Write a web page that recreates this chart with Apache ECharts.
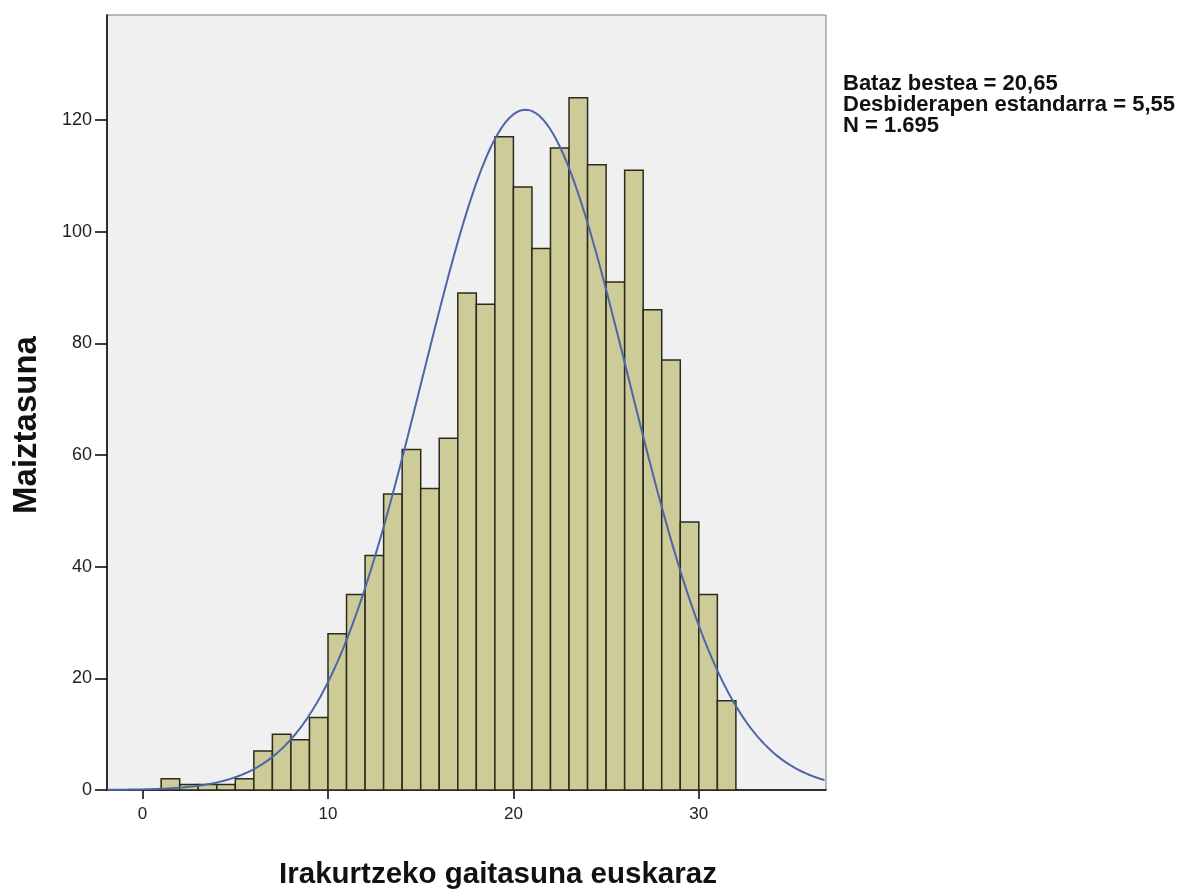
<!DOCTYPE html>
<html>
<head>
<meta charset="utf-8">
<style>
  html, body { margin: 0; padding: 0; background: #fff; }
  #chart { width: 1186px; height: 892px; }
</style>
<script src="https://cdn.jsdelivr.net/npm/echarts@6/dist/echarts.min.js"></script>
</head>
<body>
<div id="chart"></div>
<script>
// histogram bins (each bin covers [start, start + 1])
const binStart = [1, 2, 3, 4, 5, 6, 7, 8, 9, 10, 11, 12, 13, 14, 15, 16,
  17, 18, 19, 20, 21, 22, 23, 24, 25, 26, 27, 28, 29, 30, 31];
const counts = [2, 1, 1, 1, 2, 7, 10, 9, 13, 28, 35, 42, 53, 61, 54, 63,
  89, 87, 117, 108, 97, 115, 124, 112, 91, 111, 86, 77, 48, 35, 16];

const xTicks = [0, 10, 20, 30];
const yTicks = [0, 20, 40, 60, 80, 100, 120];

// stats printed next to the plot, also used for the normal curve
const mean = 20.65;
const sd = 5.55;
const n = 1695;
const statLines = [
  'Bataz bestea = 20,65',
  'Desbiderapen estandarra = 5,55',
  'N = 1.695'
];

const xMin = -1.92, xMax = 36.86, yMax = 138.8;

// normal curve scaled to the counts (bin width 1)
const curve = [];
for (let x = xMin; x <= xMax + 1e-9; x += 0.1) {
  const z = (x - mean) / sd;
  curve.push([x, n / (sd * Math.sqrt(2 * Math.PI)) * Math.exp(-0.5 * z * z)]);
}

const chart = echarts.init(document.getElementById('chart'));

chart.setOption({
  animation: false,
  backgroundColor: '#fff',
  grid: {
    left: 107, right: 360, top: 15, bottom: 102,
    show: true, backgroundColor: '#f0f0f0', borderColor: '#7a7a7a', borderWidth: 1
  },
  xAxis: {
    type: 'value', min: xMin, max: xMax,
    axisLine: { show: true, onZero: false, lineStyle: { color: '#000', width: 1.5 } },
    axisTick: { show: true, length: 9, customValues: xTicks, lineStyle: { color: '#000', width: 1.5 } },
    axisLabel: { customValues: xTicks, fontFamily: 'Liberation Sans', fontSize: 17, color: '#222', margin: 16 },
    splitLine: { show: false }
  },
  yAxis: {
    type: 'value', min: 0, max: yMax,
    axisLine: { show: true, onZero: false, lineStyle: { color: '#000', width: 1.5 } },
    axisTick: { show: true, length: 12, customValues: yTicks, lineStyle: { color: '#000', width: 1.5 } },
    axisLabel: { customValues: yTicks, fontFamily: 'Liberation Sans', fontSize: 18, color: '#222', margin: 15 },
    splitLine: { show: false }
  },
  series: [
    {
      type: 'custom',
      data: binStart.map((s, i) => [s, counts[i]]),
      renderItem: function (params, api) {
        const s = api.value(0);
        const p0 = api.coord([s, api.value(1)]);
        const p1 = api.coord([s + 1, 0]);
        return {
          type: 'rect',
          shape: { x: p0[0], y: p0[1], width: p1[0] - p0[0], height: p1[1] - p0[1] },
          style: { fill: '#cdcb97', stroke: '#2a2a1e', lineWidth: 1.5 }
        };
      },
      z: 2
    },
    {
      type: 'line',
      data: curve,
      showSymbol: false,
      lineStyle: { color: '#4d66a8', width: 2 },
      z: 3
    }
  ],
  graphic: [
    {
      type: 'text', left: 843, top: 73,
      style: {
        text: statLines.join('\n'),
        fontFamily: 'Liberation Sans', fontWeight: 'bold', fontSize: 22,
        lineHeight: 21, fill: '#111'
      }
    },
    {
      type: 'text', x: 27, y: 425, rotation: Math.PI / 2,
      style: {
        text: 'Maiztasuna', fontFamily: 'Liberation Sans', fontWeight: 'bold',
        fontSize: 33, fill: '#111', align: 'center', verticalAlign: 'middle'
      }
    },
    {
      type: 'text', x: 498, y: 875,
      style: {
        text: 'Irakurtzeko gaitasuna euskaraz', fontFamily: 'Liberation Sans', fontWeight: 'bold',
        fontSize: 29.5, fill: '#111', align: 'center', verticalAlign: 'middle'
      }
    }
  ]
});
</script>
</body>
</html>
